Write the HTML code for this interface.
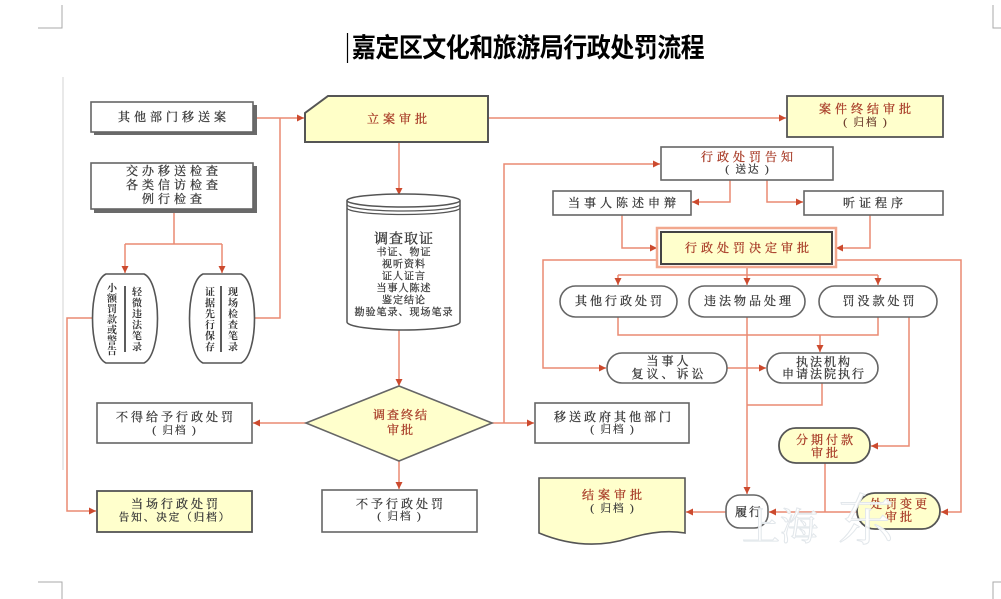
<!DOCTYPE html>
<html><head><meta charset="utf-8">
<style>
html,body{margin:0;padding:0;background:#fff;}
body{width:1001px;height:599px;overflow:hidden;position:relative;}
svg{position:absolute;left:0;top:0;}
.t{font-family:"Liberation Serif","Noto Serif CJK SC",serif;font-size:12px;fill:#3a3a3a;stroke:#3a3a3a;stroke-width:0.3;letter-spacing:4px;text-anchor:middle;dominant-baseline:central;}
.r{fill:#a83c28;stroke:#a83c28;}
.s{font-size:10.5px;letter-spacing:2px;}
.v{font-family:"Liberation Serif","Noto Serif CJK SC",serif;font-size:10px;fill:#333;text-anchor:middle;dominant-baseline:central;font-weight:bold;}
.ln{fill:none;stroke:#ea8a72;stroke-width:1.5;}
.la{fill:none;stroke:#ea8a72;stroke-width:1.5;marker-end:url(#ah);}
.bx{fill:#fff;stroke:#666;stroke-width:1.6;}
.yb{fill:#ffffcc;stroke:#555;stroke-width:1.8;}
</style></head>
<body>
<svg width="1001" height="599" viewBox="0 0 1001 599" xmlns="http://www.w3.org/2000/svg">
<defs>
<marker id="ah" markerUnits="userSpaceOnUse" markerWidth="7" markerHeight="7" refX="7" refY="3.5" orient="auto">
<path d="M0,0 L7,3.5 L0,7 z" fill="#cc4a2e"/>
</marker>
</defs>

<!-- page corner marks -->
<g stroke="#aaa" stroke-width="1" fill="none">
<path d="M62,5 V28 H38"/>
<path d="M993,5 V28 H1001"/>
<path d="M38,582 H62 V599"/>
<path d="M1001,582 H993 V599"/>
</g>
<line x1="63" y1="77" x2="63" y2="470" stroke="#e2e2e2" stroke-width="1.5"/>

<!-- title -->
<line x1="347.5" y1="33" x2="347.5" y2="63" stroke="#000" stroke-width="1.2"/>
<text transform="translate(528,57) scale(1,1.12)" text-anchor="middle" style="font-family:'Noto Sans CJK SC','WenQuanYi Zen Hei',sans-serif;font-size:24px;fill:#000;font-weight:bold;letter-spacing:-0.5px">嘉定区文化和旅游局行政处罚流程</text>

<!-- connectors -->
<path class="ln" d="M255,318 H280 V118"/>
<path class="la" d="M257,118 H304"/>
<path class="ln" d="M174,213 V244 M125,244 H222"/>
<path class="la" d="M125,244 V273"/>
<path class="la" d="M222,244 V273"/>
<path class="la" d="M92,318 H67 V511 H96"/>
<path class="la" d="M399,142 V195"/>
<path class="la" d="M488,118 H786"/>
<path class="la" d="M399,330 V386"/>
<path class="la" d="M306,423 H253"/>
<path class="la" d="M399,461 V489"/>
<path class="ln" d="M492,423 H504"/>
<path class="la" d="M504,423 V164 H660"/>
<path class="la" d="M504,423 H534"/>
<path class="la" d="M730,180 V202 H692"/>
<path class="la" d="M767,180 V202 H803"/>
<path class="la" d="M622,215 V248 H657"/>
<path class="la" d="M870,215 V248 H836"/>
<path class="la" d="M656,260 H543 V368 H606"/>
<path class="la" d="M837,260 H961 V512 H941"/>
<path class="ln" d="M747,268 V275 M618,275 H878"/>
<path class="la" d="M618,275 V285"/>
<path class="la" d="M747,275 V285"/>
<path class="la" d="M878,275 V285"/>
<path class="ln" d="M618,317 V335 H878 V317"/>
<path class="la" d="M820,335 V352"/>
<path class="la" d="M747,317 V494"/>
<path class="la" d="M909,317 V446 H871"/>
<path class="la" d="M727,368 H766"/>
<path class="ln" d="M822,383 V405 H747"/>
<path class="ln" d="M825,463 V512"/>
<path class="la" d="M857,512 H769"/>
<path class="la" d="M726,512 H686"/>

<!-- box 1 (3D) -->
<rect x="94" y="105" width="163" height="30" fill="#6a6a6a"/>
<rect x="91" y="102" width="162" height="30" class="bx" stroke="#555"/>
<text class="t" x="174" y="117">其他部门移送案</text>

<!-- box 2 (3D) -->
<rect x="94" y="166" width="163" height="47" fill="#6a6a6a"/>
<rect x="91" y="163" width="162" height="46" class="bx" stroke="#555"/>
<text class="t" x="174" y="171">交办移送检查</text>
<text class="t" x="174" y="185">各类信访检查</text>
<text class="t" x="174" y="199">例行检查</text>

<!-- barrels -->
<path d="M106,274 H144 C162,282 162,355 144,363 H106 C88,355 88,282 106,274 Z" fill="#fff" stroke="#555" stroke-width="1.6"/>
<path d="M203,274 H241 C259,282 259,355 241,363 H203 C185,355 185,282 203,274 Z" fill="#fff" stroke="#555" stroke-width="1.6"/>
<line x1="125" y1="286" x2="125" y2="352" stroke="#333" stroke-width="1.6"/>
<line x1="221" y1="286" x2="221" y2="352" stroke="#333" stroke-width="1.6"/>
<g class="v">
<text x="112" y="289">小</text><text x="112" y="299.5">额</text><text x="112" y="310">罚</text><text x="112" y="320.5">款</text><text x="112" y="331">或</text><text x="112" y="341.5">警</text><text x="112" y="352">告</text>
<text x="137" y="293">轻</text><text x="137" y="304">微</text><text x="137" y="315">违</text><text x="137" y="326">法</text><text x="137" y="337">笔</text><text x="137" y="348">录</text>
<text x="210" y="293">证</text><text x="210" y="304">据</text><text x="210" y="315">先</text><text x="210" y="326">行</text><text x="210" y="337">保</text><text x="210" y="348">存</text>
<text x="233" y="293">现</text><text x="233" y="304">场</text><text x="233" y="315">检</text><text x="233" y="326">查</text><text x="233" y="337">笔</text><text x="233" y="348">录</text>
</g>

<!-- 立案审批 -->
<polygon points="328,96 488,96 488,142 305,142 305,113" fill="#ffffc8" stroke="#555" stroke-width="2"/>
<text class="t r" x="399" y="119">立案审批</text>

<!-- 案件终结审批 -->
<rect x="787" y="96" width="156" height="41" class="yb"/>
<text class="t r" x="867" y="109">案件终结审批</text>
<text class="t s" x="866" y="123" style="fill:#6a3a2a;stroke:#6a3a2a">( 归档 )</text>

<!-- cylinder -->
<path d="M347,200.5 V322 A56.5,8 0 0 0 460,322 V200.5" fill="#fff" stroke="#555" stroke-width="1.5"/>
<ellipse cx="403.5" cy="200.5" rx="56.5" ry="6.5" fill="#fff" stroke="#555" stroke-width="1.5"/>
<path d="M347,204.5 A56.5,6.5 0 0 0 460,204.5 M347,208 A56.5,6.5 0 0 0 460,208" fill="none" stroke="#555" stroke-width="1.3"/>
<text class="t" x="404" y="240" style="font-size:14px;letter-spacing:1px;fill:#333">调查取证</text>
<g class="t" style="font-size:10px;letter-spacing:1px">
<text x="404" y="253">书证、物证</text>
<text x="404" y="265">视听资料</text>
<text x="404" y="277">证人证言</text>
<text x="404" y="289">当事人陈述</text>
<text x="404" y="301">鉴定结论</text>
<text x="404" y="313">勘验笔录、现场笔录</text>
</g>

<!-- diamond -->
<polygon points="399,386 492,423 399,461 306,423" fill="#ffffcc" stroke="#666" stroke-width="1.6"/>
<text class="t r" x="401" y="415" style="letter-spacing:2px">调查终结</text>
<text class="t r" x="401" y="430" style="letter-spacing:2px">审批</text>

<!-- left bottom boxes -->
<rect x="97" y="403" width="155" height="40" class="bx"/>
<text class="t" x="176" y="417" style="letter-spacing:3px">不得给予行政处罚</text>
<text class="t s" x="175" y="431">( 归档 )</text>

<rect x="97" y="491" width="155" height="41" class="yb"/>
<text class="t" x="176" y="504" style="letter-spacing:3px">当场行政处罚</text>
<text class="t s" x="175" y="518">告知、决定（归档）</text>

<rect x="322" y="490" width="155" height="42" class="bx"/>
<text class="t" x="401" y="504" style="letter-spacing:3px">不予行政处罚</text>
<text class="t s" x="400" y="517">( 归档 )</text>

<!-- 移送政府其他部门 -->
<rect x="535" y="403" width="154" height="40" class="bx"/>
<text class="t" x="614" y="417" style="letter-spacing:3px">移送政府其他部门</text>
<text class="t s" x="613" y="430">( 归档 )</text>

<!-- 行政处罚告知 -->
<rect x="661" y="147" width="172" height="33" class="bx"/>
<text class="t r" x="749" y="157">行政处罚告知</text>
<text class="t s" x="748" y="170">( 送达 )</text>

<rect x="553" y="191" width="138" height="24" class="bx"/>
<text class="t" x="624" y="203">当事人陈述申辩</text>
<rect x="804" y="191" width="139" height="24" class="bx"/>
<text class="t" x="875" y="203">听证程序</text>

<!-- decision -->
<rect x="657" y="228" width="179" height="39" fill="none" stroke="#f2a88e" stroke-width="2.5"/>
<rect x="661" y="232" width="171" height="32" fill="#ffffcc" stroke="#444" stroke-width="2"/>
<text class="t r" x="749" y="248">行政处罚决定审批</text>

<!-- pills row -->
<rect x="560" y="286" width="117" height="31" rx="15.5" class="bx"/>
<text class="t" x="620" y="301" style="letter-spacing:3px">其他行政处罚</text>
<rect x="689" y="286" width="116" height="31" rx="15.5" class="bx"/>
<text class="t" x="749" y="301" style="letter-spacing:3px">违法物品处理</text>
<rect x="819" y="286" width="118" height="31" rx="15.5" class="bx"/>
<text class="t" x="880" y="301" style="letter-spacing:3px">罚没款处罚</text>

<rect x="607" y="353" width="120" height="30" rx="15" class="bx"/>
<text class="t" x="669" y="361" style="letter-spacing:3px">当事人</text>
<text class="t" x="669" y="374" style="letter-spacing:3px">复议、诉讼</text>
<rect x="767" y="353" width="111" height="30" rx="15" class="bx"/>
<text class="t" x="824" y="362" style="letter-spacing:2px">执法机构</text>
<text class="t" x="824" y="374" style="letter-spacing:2px">申请法院执行</text>

<rect x="779" y="428" width="91" height="35" rx="17" class="yb"/>
<text class="t r" x="826" y="440" style="letter-spacing:3px">分期付款</text>
<text class="t r" x="826" y="453" style="letter-spacing:3px">审批</text>

<rect x="726" y="495" width="42" height="33" rx="14" class="bx" stroke="#555"/>
<text class="t" x="749" y="512" style="letter-spacing:2px">履行</text>

<rect x="857" y="493" width="83" height="36" rx="18" class="yb"/>
<text class="t r" x="900" y="504" style="letter-spacing:3px">处罚变更</text>
<text class="t r" x="900" y="517" style="letter-spacing:3px">审批</text>

<!-- 结案审批 document -->
<path d="M539,478 H685 V533 C668,530 650,532 630,538 C605,546 575,548 539,533 Z" fill="#ffffcc" stroke="#555" stroke-width="1.6"/>
<text class="t r" x="614" y="495">结案审批</text>
<text class="t s" x="613" y="509">( 归档 )</text>

<!-- watermark -->
<g style="font-family:'Noto Serif CJK SC',serif;fill:#fff;fill-opacity:0.9;stroke:#e2e7eb;stroke-width:1">
<text x="742" y="540" font-size="38">上海</text>
<text x="838" y="540" font-size="56">东</text>
</g>
</svg>
</body></html>
